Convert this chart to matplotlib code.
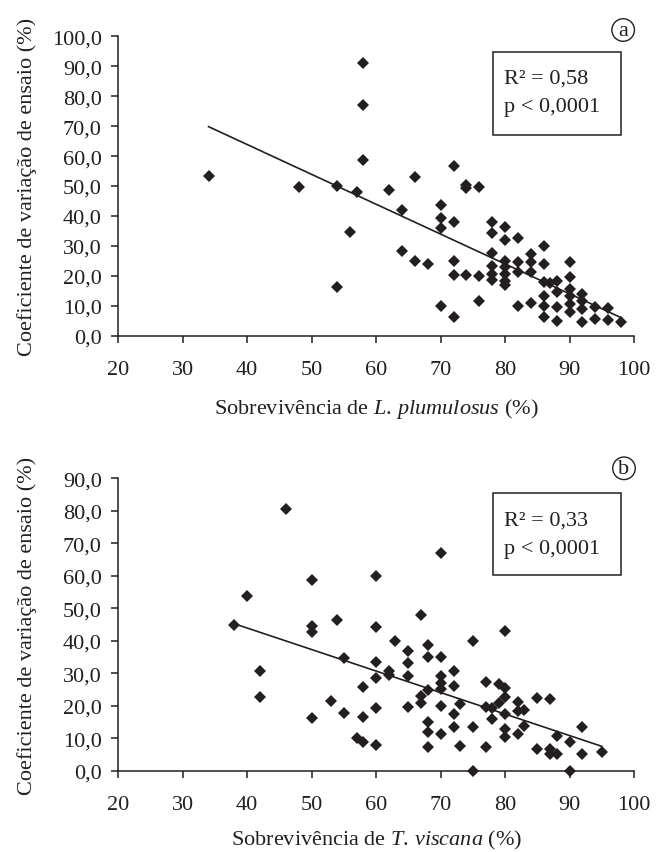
import numpy as np
import matplotlib
matplotlib.use("Agg")
import matplotlib.pyplot as plt
from matplotlib.patches import Rectangle

# ---------------- data ----------------
# Panel a: survival of L. plumulosus (%) vs CV (%)
a_surv = [34, 48, 54, 54, 56, 57, 58, 58, 58,
          62, 64, 64, 66, 66, 68,
          70, 70, 70, 70,
          72, 72, 72, 72, 72,
          74, 74, 74,
          76, 76, 76,
          78, 78, 78, 78, 78, 78,
          80, 80, 80, 80, 80, 80, 80,
          82, 82, 82, 82,
          84, 84, 84, 84,
          86, 86, 86, 86, 86, 86,
          87, 88, 88, 88, 88,
          90, 90, 90, 90, 90, 90,
          92, 92, 92, 92,
          94, 94,
          96, 96,
          98]
a_cv = [53.3, 49.7, 50.0, 16.4, 34.5, 47.9, 91.2, 77.2, 58.7,
        48.8, 42.1, 28.4, 52.9, 24.8, 24.0,
        43.8, 39.3, 36.0, 10.0,
        56.6, 38.1, 24.8, 20.4, 6.1,
        50.2, 49.2, 20.4,
        49.6, 20.1, 11.5,
        37.9, 34.2, 27.6, 23.2, 20.6, 18.7,
        36.2, 31.8, 25.1, 22.8, 20.6, 18.4, 17.0,
        32.5, 24.7, 21.4, 10.0,
        27.3, 24.5, 21.4, 10.9,
        30.1, 24.0, 17.8, 13.4, 10.0, 6.1,
        17.6, 18.4, 14.5, 9.5, 5.0,
        24.7, 19.5, 15.6, 13.4, 10.6, 8.0,
        13.9, 11.7, 8.9, 4.7,
        9.5, 5.6,
        9.3, 5.4,
        4.5]

# Panel b: survival of T. viscana (%) vs CV (%)
b_surv = [38, 40, 42, 42, 46, 50, 50, 50, 50,
          53, 54, 55, 55, 57, 58,
          58, 58,
          60, 60, 60, 60, 60, 60,
          62, 62, 63,
          65, 65, 65, 65,
          67, 67, 67,
          68, 68, 68, 68, 68, 68,
          70, 70, 70, 70, 70, 70, 70,
          72, 72, 72, 72,
          73, 73,
          75, 75, 75,
          77, 77, 77,
          78, 78,
          79, 79,
          80, 80, 80, 80, 80, 80,
          82, 82, 82,
          83, 83,
          85, 85,
          87, 87, 87,
          88, 88,
          90, 90,
          92, 92,
          95]
b_cv = [44.8, 53.9, 30.6, 22.7, 80.4, 58.8, 44.4, 42.8, 16.3,
        21.5, 46.4, 34.7, 17.9, 10.2, 8.8,
        25.9, 16.4,
        60.0, 44.2, 33.4, 28.5, 19.2, 8.0,
        30.8, 29.6, 40.0,
        36.7, 33.2, 29.3, 19.7,
        47.9, 22.9, 20.8,
        38.8, 35.1, 24.9, 15.1, 11.8, 7.2,
        67.0, 35.1, 29.3, 26.9, 25.2, 20.0, 11.3,
        30.8, 26.2, 17.5, 13.3,
        20.5, 7.7,
        40.0, 13.3, 0.0,
        27.2, 19.5, 7.2,
        19.2, 15.9,
        26.7, 20.8,
        43.1, 25.4, 22.6, 17.5, 12.8, 10.3,
        21.0, 18.5, 11.3,
        18.8, 13.9,
        22.4, 6.7,
        22.1, 6.7, 5.1,
        10.8, 5.1,
        8.9, 0.0,
        13.3, 5.1,
        5.9]

x_ticks = [20, 30, 40, 50, 60, 70, 80, 90, 100]
a_yticks = [0, 10, 20, 30, 40, 50, 60, 70, 80, 90, 100]
b_yticks = [0, 10, 20, 30, 40, 50, 60, 70, 80, 90]
a_stats = ["R² = 0,58", "p < 0,0001"]
b_stats = ["R² = 0,33", "p < 0,0001"]
ylabel = "Coeficiente de variação de ensaio (%)"
a_xlabel = r"Sobrevivência de $\mathit{L.\,plumulosus}$ (%)"
b_xlabel = r"Sobrevivência de $\mathit{T.\,viscana}$ (%)"

# ---------------- style ----------------
INK = "#231f20"
plt.rcParams["font.family"] = ["Liberation Serif", "DejaVu Serif"]
plt.rcParams["font.size"] = 16
plt.rcParams["mathtext.fontset"] = "custom"
plt.rcParams["mathtext.rm"] = "Liberation Serif"
plt.rcParams["mathtext.it"] = "Liberation Serif:italic"
plt.rcParams["text.color"] = INK

W, H = 656, 853
fig = plt.figure(figsize=(W / 100, H / 100), dpi=100)
fig.patch.set_facecolor("white")

def fmt(v):
    return f"{v:.1f}".replace(".", ",")

def panel(rect, xs, ys, yticks, stats, xlabel, letter, box, lines, circ):
    ax = fig.add_axes(rect)
    ax.plot(xs, ys, linestyle="none", marker="D", ms=6.4, mew=0,
            color=INK, clip_on=False, zorder=3)
    # least squares trend line
    k, b0 = np.polyfit(xs, ys, 1)
    xl = np.array([min(xs), max(xs)])
    ax.plot(xl, k * xl + b0, color=INK, lw=1.2, zorder=2)
    ax.set_xlim(x_ticks[0], x_ticks[-1])
    ax.set_ylim(yticks[0], yticks[-1])
    ax.set_xticks(x_ticks)
    ax.set_xticklabels([str(t) for t in x_ticks])
    ax.set_yticks(yticks)
    ax.set_yticklabels([fmt(t) for t in yticks])
    for s in ("top", "right"):
        ax.spines[s].set_visible(False)
    for s in ("left", "bottom"):
        ax.spines[s].set_color(INK)
        ax.spines[s].set_linewidth(1.1)
    ax.tick_params(direction="out", length=5, width=1.1, color=INK,
                   labelcolor=INK, labelsize=16, pad=7)
    ax.tick_params(axis="x", pad=12.5)
    ax.set_ylabel(ylabel, fontsize=16, color=INK)
    ax.yaxis.set_label_coords(-0.158, 0.5)
    ax.set_xlabel(xlabel, fontsize=16, color=INK, va="top")
    ax.xaxis.set_label_coords(0.5, box[4])
    # stats box
    x0, y0, x1, y1 = box[:4]
    ax.add_patch(Rectangle((x0, y0), x1 - x0, y1 - y0, transform=ax.transAxes,
                           fill=True, fc="white", ec=INK, lw=1.1,
                           clip_on=False, zorder=4))
    for txt, yy in zip(stats, lines[1:]):
        ax.text(lines[0], yy, txt, transform=ax.transAxes, ha="left",
                va="center", fontsize=16, color=INK, zorder=5)
    ax.text(circ[0], circ[1], letter, transform=ax.transAxes, ha="center",
            va="center", fontsize=16, color=INK,
            bbox=dict(boxstyle="circle,pad=0.08", fc="white", ec=INK, lw=1.0))
    return ax

left = 118.3 / W
width = 515.7 / W
panel([left, 1 - 336.7 / H, width, 299.4 / H], a_surv, a_cv, a_yticks,
      a_stats, a_xlabel, "a",
      (0.727, 0.6713, 0.975, 0.9486, -0.2014), (0.748, 0.8607, 0.7639),
      (0.979, 1.021))
panel([left, 1 - 771.7 / H, width, 292.4 / H], b_surv, b_cv, b_yticks,
      b_stats, b_xlabel, "b",
      (0.727, 0.6693, 0.975, 0.9487, -0.195), (0.748, 0.8584, 0.7616),
      (0.9806, 1.0342))

fig.savefig("out.png", dpi=100, facecolor="white")
